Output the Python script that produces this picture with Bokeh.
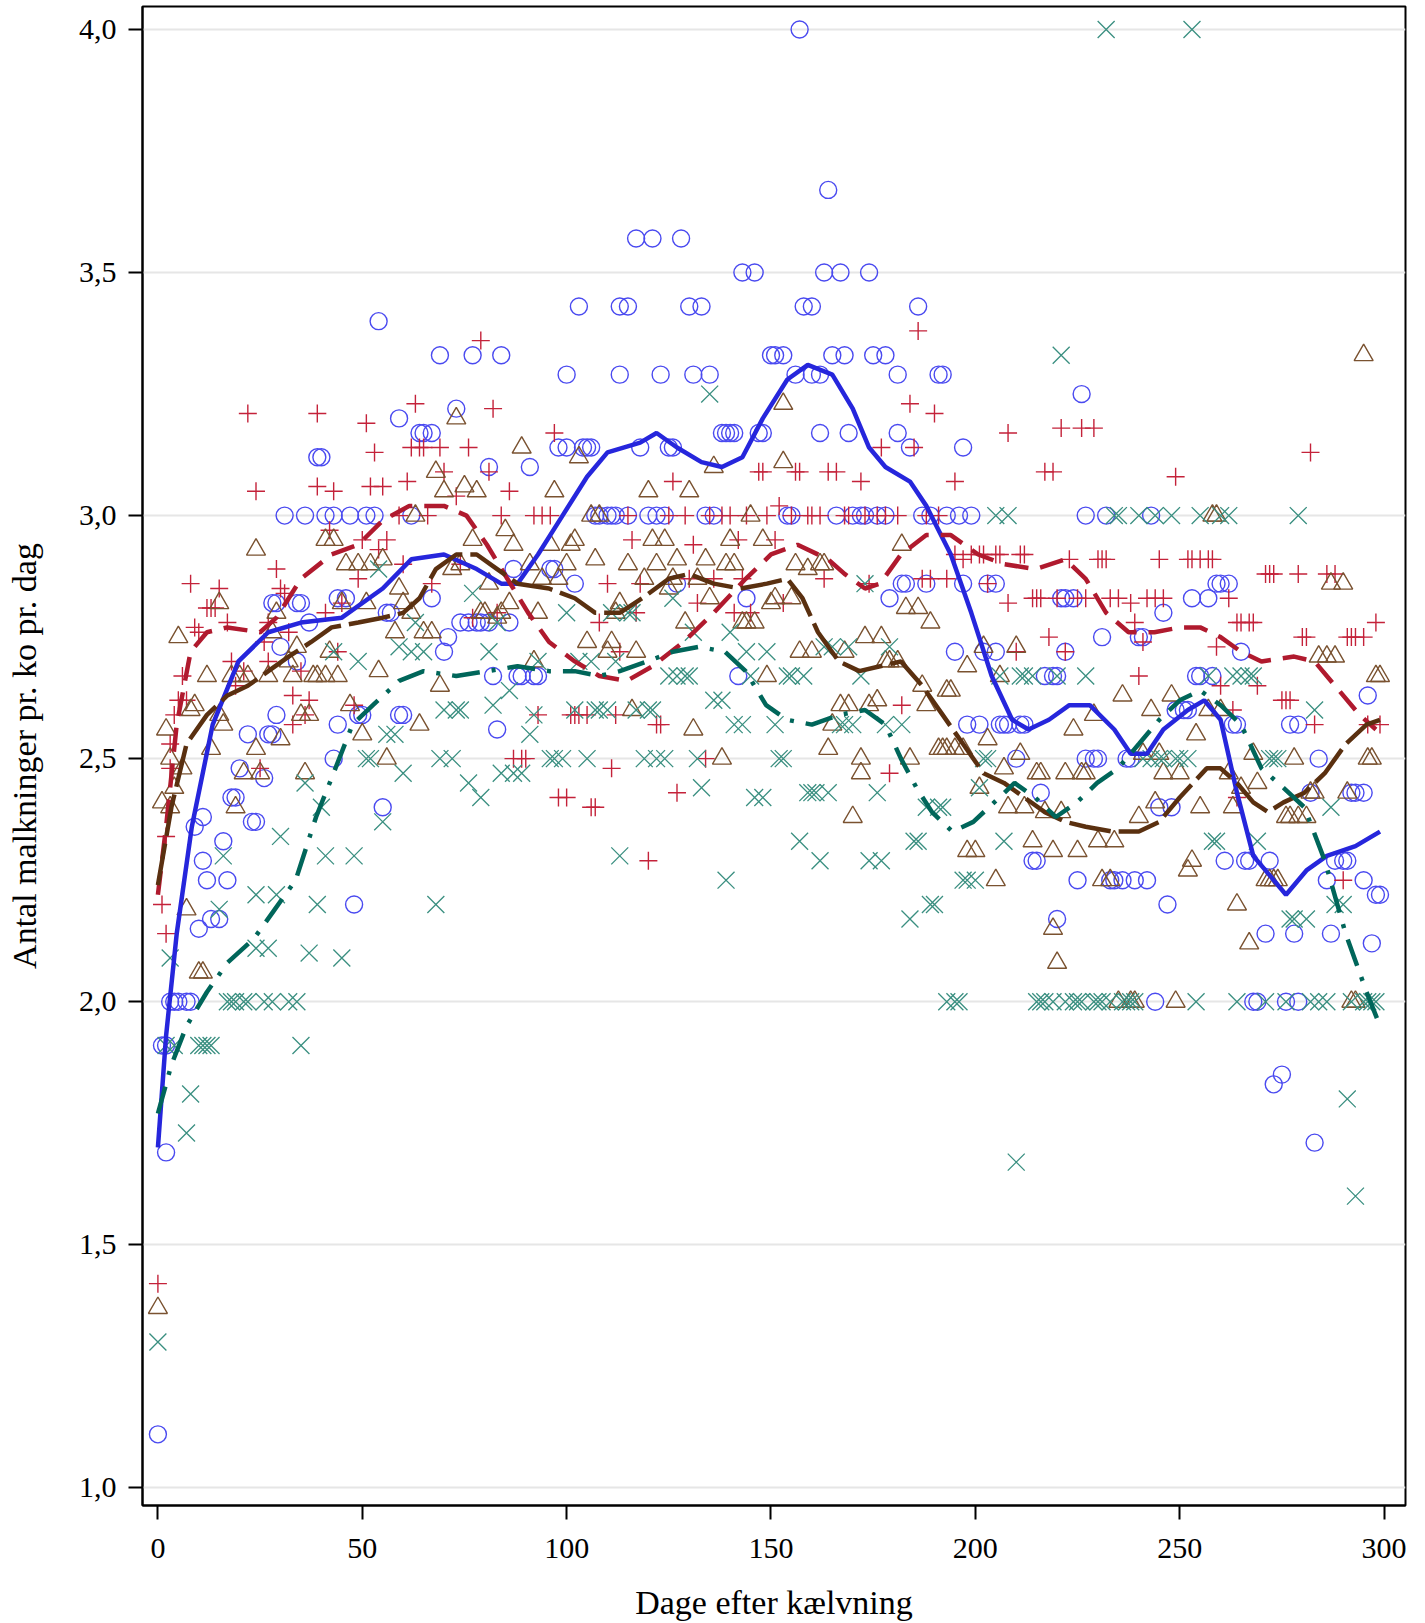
from bokeh.plotting import figure
from bokeh.models import Range1d, FixedTicker, CustomJSTickFormatter
from bokeh.embed import file_html
from bokeh.resources import INLINE

# ---------------- data: (day after calving, milkings per cow per day) ----------------
BLUE_POINTS = [(0,1.11),(2,1.69),(1,1.91),(2,1.91),(3,2.0),(4,2.0),(5,2.0),(7,2.0),(8,2.0),(10,2.15),(9,2.36),(11,2.29),(11,2.38),(12,2.25),(13,2.17),(15,2.17),(16,2.33),(17,2.25),(18,2.42),(19,2.42),(20,2.48),(22,2.55),(23,2.37),(24,2.37),(26,2.46),(27,2.55),(28,2.55),(29,2.59),(28,2.82),(29,2.82),(30,2.73),(31,3.0),(34,2.82),(35,2.82),(34,2.70),(36,3.0),(37,2.78),(39,3.12),(40,3.12),(41,3.0),(43,3.0),(43,2.5),(44,2.83),(46,2.83),(44,2.57),(47,3.0),(48,2.20),(49,2.59),(50,2.59),(51,3.0),(53,3.0),(54,3.40),(55,2.40),(56,2.80),(57,2.80),(59,2.59),(59,3.20),(60,2.59),(62,3.0),(64,3.17),(65,3.17),(67,3.17),(67,2.83),(69,3.33),(70,2.72),(71,2.75),(73,3.22),(74,2.78),(76,2.78),(77,3.33),(78,2.78),(79,2.78),(81,2.78),(81,3.10),(82,2.67),(83,2.56),(84,3.33),(86,2.78),(87,2.89),(88,2.67),(89,2.67),(91,3.10),(92,2.67),(93,2.67),(96,2.89),(97,2.89),(98,3.14),(100,3.14),(100,3.29),(102,2.86),(103,3.43),(104,3.14),(105,3.14),(106,3.14),(107,3.0),(108,3.0),(110,3.0),(111,3.0),(112,3.0),(113,3.29),(113,3.43),(115,3.43),(115,3.0),(117,3.57),(118,3.14),(120,3.0),(121,3.57),(122,3.0),(123,3.29),(124,3.0),(125,3.14),(126,3.14),(127,2.86),(128,3.57),(130,3.43),(131,3.29),(133,3.43),(134,3.0),(135,3.29),(136,3.0),(138,3.17),(139,3.17),(140,3.17),(141,3.17),(142,2.67),(143,3.5),(144,2.83),(146,3.5),(147,3.17),(148,3.17),(150,3.33),(151,3.33),(153,3.33),(154,3.0),(155,3.0),(156,3.29),(157,4.0),(158,3.43),(160,3.43),(160,3.29),(162,3.29),(162,3.17),(163,3.5),(164,3.67),(166,3.0),(167,3.5),(165,3.33),(168,3.33),(169,3.17),(170,3.0),(172,3.0),(173,3.0),(174,3.5),(175,3.33),(176,3.0),(178,3.33),(178,3.0),(179,2.83),(181,3.17),(181,3.29),(182,2.86),(183,2.86),(184,3.14),(186,3.43),(187,3.0),(188,2.86),(189,3.0),(191,3.29),(192,3.29),(193,3.0),(195,2.72),(196,3.0),(197,2.86),(197,3.14),(198,2.57),(199,3.0),(201,2.57),(202,2.72),(203,2.86),(205,2.86),(205,2.72),(206,2.57),(207,2.57),(208,2.57),(210,2.5),(211,2.57),(212,2.57),(214,2.29),(215,2.29),(216,2.43),(217,2.67),(219,2.67),(220,2.67),(220,2.17),(221,2.83),(222,2.83),(222,2.72),(224,2.83),(225,2.25),(226,3.25),(227,3.0),(227,2.5),(229,2.5),(230,2.5),(231,2.75),(232,3.0),(233,2.25),(234,2.25),(236,2.25),(237,2.5),(238,2.5),(239,2.25),(240,2.75),(241,2.75),(242,2.25),(243,3.0),(244,2.0),(245,2.40),(246,2.80),(247,2.20),(248,2.40),(249,2.60),(251,2.60),(252,2.60),(253,2.83),(254,2.67),(255,2.67),(257,2.83),(258,2.67),(259,2.86),(260,2.86),(261,2.29),(262,2.86),(263,2.57),(264,2.57),(265,2.72),(266,2.29),(267,2.29),(268,2.0),(269,2.0),(271,2.14),(272,2.29),(273,1.83),(275,1.85),(276,2.0),(277,2.57),(278,2.14),(279,2.57),(279,2.0),(282,2.43),(283,1.71),(284,2.5),(286,2.25),(287,2.14),(288,2.29),(290,2.29),(291,2.29),(292,2.43),(293,2.43),(295,2.43),(295,2.25),(296,2.63),(297,2.12),(298,2.22),(299,2.22)]

RED_POINTS = [(0,1.42),(1,2.20),(2,2.14),(2,2.34),(3,2.48),(3,2.53),(4,2.59),(5,2.62),(6,2.67),(7,2.62),(8,2.86),(9,2.77),(10,2.76),(12,2.81),(13,2.81),(14,2.81),(15,2.85),(17,2.78),(18,2.70),(19,2.65),(21,2.68),(22,3.21),(24,3.05),(25,2.48),(26,2.74),(27,2.70),(27,2.78),(29,2.89),(30,2.85),(31,2.84),(32,2.76),(33,2.57),(33,2.63),(35,2.68),(36,2.59),(37,2.62),(39,3.21),(39,3.06),(41,2.80),(42,2.97),(43,3.05),(44,2.72),(45,2.82),(48,2.61),(49,2.87),(50,2.95),(51,3.19),(52,3.06),(53,3.13),(54,2.93),(55,3.06),(56,2.95),(59,3.0),(60,2.90),(61,3.07),(62,3.14),(63,3.23),(64,3.14),(65,3.14),(66,3.0),(67,2.86),(69,3.14),(70,3.09),(73,3.04),(74,2.90),(76,3.14),(77,2.79),(79,3.36),(81,3.09),(82,3.22),(83,2.80),(84,3.0),(86,3.05),(87,2.50),(89,2.50),(90,2.50),(92,3.0),(93,2.59),(94,3.0),(96,3.0),(97,3.17),(98,2.42),(100,2.42),(101,2.59),(102,2.59),(103,2.59),(105,2.59),(106,2.40),(107,2.40),(108,2.78),(110,2.86),(111,2.48),(112,2.59),(113,2.72),(115,3.0),(116,2.95),(117,2.80),(118,2.86),(120,2.29),(122,2.57),(123,2.57),(125,3.0),(126,3.07),(127,2.43),(129,3.0),(130,2.87),(131,2.94),(132,2.82),(134,2.5),(135,3.0),(136,2.87),(138,3.0),(140,3.0),(141,2.80),(142,2.95),(143,2.87),(144,3.0),(145,2.80),(147,3.09),(148,3.09),(149,3.0),(151,2.95),(152,3.02),(153,2.82),(155,3.0),(156,3.09),(157,3.09),(159,3.0),(160,3.0),(162,3.0),(163,2.87),(164,3.09),(166,3.09),(168,3.0),(169,3.0),(172,3.07),(173,3.0),(174,2.86),(176,3.0),(177,3.14),(178,3.0),(179,2.47),(181,3.0),(182,2.61),(184,3.23),(185,3.14),(186,3.38),(187,2.87),(188,3.0),(189,2.87),(190,3.21),(191,3.0),(193,2.87),(195,3.07),(195,2.92),(197,2.91),(199,2.92),(201,2.92),(202,2.92),(203,2.86),(205,2.92),(206,2.92),(208,2.82),(208,3.17),(210,2.72),(211,2.92),(212,2.92),(214,2.83),(215,2.83),(216,2.83),(217,3.09),(218,2.75),(219,3.09),(220,2.83),(221,3.18),(222,2.72),(223,2.91),(225,2.83),(226,3.18),(227,2.83),(229,3.18),(230,2.91),(231,2.91),(232,2.91),(233,2.83),(235,2.83),(238,2.82),(239,2.78),(240,2.67),(241,2.74),(242,2.83),(244,2.83),(245,2.91),(246,2.83),(249,3.08),(252,2.91),(253,2.91),(255,2.91),(257,2.91),(258,2.91),(259,2.73),(260,2.65),(262,2.83),(263,2.60),(264,2.78),(264,2.42),(265,2.78),(267,2.78),(268,2.78),(269,2.65),(271,2.88),(272,2.88),(273,2.88),(275,2.62),(276,2.62),(277,2.62),(279,2.88),(280,2.75),(281,2.75),(282,3.13),(283,2.57),(286,2.88),(288,2.88),(290,2.25),(291,2.75),(292,2.75),(293,2.75),(295,2.75),(296,2.57),(298,2.78),(299,2.57)]

BROWN_POINTS = [(0,1.37),(1,2.41),(2,2.56),(3,2.50),(3,2.40),(4,2.44),(5,2.75),(6,2.48),(7,2.19),(8,2.60),(9,2.61),(10,2.06),(11,2.06),(12,2.67),(13,2.52),(15,2.82),(15,2.59),(16,2.57),(18,2.67),(19,2.40),(20,2.67),(21,2.47),(22,2.67),(24,2.93),(24,2.52),(25,2.47),(27,2.67),(28,2.76),(29,2.80),(30,2.54),(32,2.70),(33,2.67),(34,2.73),(35,2.59),(36,2.47),(37,2.59),(38,2.67),(39,2.67),(41,2.67),(41,2.95),(42,2.72),(43,2.95),(44,2.67),(45,2.82),(46,2.90),(47,2.61),(49,2.90),(50,2.55),(51,2.82),(52,2.90),(54,2.68),(55,2.91),(56,2.50),(58,2.76),(59,2.85),(60,2.82),(62,2.80),(63,3.0),(64,2.57),(65,2.76),(67,2.76),(68,3.09),(69,2.65),(70,3.05),(72,2.89),(73,3.20),(74,2.90),(75,3.06),(77,2.95),(78,3.05),(79,2.80),(80,2.80),(81,2.86),(83,2.79),(84,2.80),(85,2.97),(86,2.82),(87,2.94),(89,3.14),(91,2.90),(92,2.70),(93,2.80),(94,2.87),(96,2.94),(97,3.05),(98,2.87),(100,2.90),(101,2.94),(102,2.95),(103,3.12),(105,2.74),(106,3.0),(107,2.91),(108,3.0),(110,2.72),(111,2.74),(112,2.80),(113,2.82),(115,2.90),(116,2.60),(117,2.72),(119,2.87),(120,3.05),(121,2.95),(122,2.90),(124,2.95),(125,2.85),(126,2.87),(127,2.91),(129,2.78),(130,3.05),(131,2.56),(132,2.87),(134,2.91),(135,2.83),(136,3.10),(138,2.50),(139,2.90),(140,2.95),(141,2.90),(143,2.78),(144,2.78),(145,3.0),(146,2.78),(148,2.95),(149,2.67),(150,2.82),(151,2.83),(153,3.23),(153,3.11),(155,2.83),(156,2.90),(157,2.72),(159,2.89),(160,2.72),(162,2.90),(163,2.90),(164,2.52),(165,2.57),(167,2.61),(168,2.72),(169,2.61),(170,2.38),(172,2.47),(172,2.50),(173,2.75),(174,2.61),(176,2.62),(177,2.75),(178,2.70),(179,2.70),(181,2.70),(182,2.94),(183,2.81),(184,2.50),(186,2.81),(187,2.65),(188,2.61),(189,2.78),(191,2.52),(192,2.52),(193,2.64),(193,2.52),(194,2.64),(195,2.52),(197,2.52),(198,2.69),(198,2.31),(200,2.31),(201,2.44),(202,2.73),(203,2.54),(205,2.25),(206,2.67),(207,2.48),(208,2.40),(210,2.73),(211,2.51),(212,2.40),(214,2.33),(215,2.47),(216,2.47),(217,2.39),(219,2.31),(219,2.15),(220,2.08),(221,2.39),(222,2.47),(224,2.56),(225,2.31),(226,2.47),(227,2.47),(229,2.59),(230,2.33),(231,2.25),(233,2.25),(234,2.33),(235,2.0),(236,2.63),(238,2.0),(239,2.0),(240,2.38),(241,2.51),(243,2.60),(244,2.41),(245,2.51),(246,2.47),(248,2.63),(249,2.0),(250,2.47),(252,2.27),(253,2.29),(254,2.55),(255,2.40),(257,2.60),(258,3.0),(259,3.0),(260,2.60),(262,2.47),(263,2.40),(264,2.20),(265,2.44),(267,2.12),(268,2.51),(269,2.45),(271,2.25),(272,2.25),(273,2.25),(274,2.25),(276,2.38),(277,2.38),(278,2.5),(279,2.38),(281,2.38),(282,2.43),(283,2.43),(284,2.71),(286,2.71),(287,2.86),(288,2.71),(290,2.86),(291,2.43),(292,2.0),(293,2.0),(295,3.33),(296,2.5),(297,2.5),(298,2.67),(299,2.67)]

TEAL_POINTS = [(0,1.30),(2,1.91),(3,2.09),(4,1.91),(7,1.73),(8,1.81),(10,1.91),(11,1.91),(12,1.91),(13,1.91),(15,2.19),(16,2.30),(17,2.0),(18,2.0),(19,2.0),(21,2.0),(22,2.0),(24,2.22),(24,2.11),(26,2.0),(27,2.11),(28,2.0),(29,2.22),(30,2.34),(32,2.0),(34,2.0),(35,1.91),(36,2.45),(37,2.10),(39,2.20),(40,2.40),(41,2.30),(43,2.72),(45,2.09),(48,2.30),(49,2.70),(51,2.5),(52,2.5),(54,2.89),(55,2.37),(56,2.55),(58,2.55),(59,2.73),(60,2.47),(62,2.72),(63,2.78),(65,2.72),(68,2.20),(69,2.5),(70,2.60),(72,2.5),(73,2.60),(74,2.60),(76,2.45),(77,2.84),(79,2.42),(81,2.72),(82,2.61),(83,2.78),(84,2.47),(86,2.64),(87,2.47),(89,2.47),(91,2.55),(92,2.59),(93,2.70),(96,2.5),(97,2.5),(99,2.5),(100,2.80),(102,2.60),(103,2.70),(105,2.5),(106,2.70),(107,2.60),(108,2.60),(110,2.60),(111,2.80),(112,2.70),(113,2.30),(115,2.80),(116,2.80),(117,2.60),(119,2.5),(120,2.60),(121,2.60),(122,2.5),(124,2.5),(125,2.67),(126,2.83),(127,2.67),(129,2.67),(130,2.67),(131,2.76),(132,2.5),(133,2.44),(135,3.25),(136,2.62),(138,2.62),(139,2.25),(140,2.76),(141,2.57),(143,2.57),(144,2.72),(145,2.67),(146,2.42),(148,2.42),(149,2.72),(151,2.57),(152,2.5),(153,2.5),(154,2.67),(155,2.67),(157,2.33),(158,2.67),(159,2.43),(160,2.43),(161,2.43),(162,2.29),(163,2.73),(164,2.43),(165,2.73),(167,2.57),(168,2.57),(169,2.73),(170,2.57),(172,2.67),(173,2.86),(174,2.29),(176,2.43),(177,2.29),(178,2.57),(179,2.73),(182,2.57),(184,2.17),(185,2.33),(186,2.33),(188,2.40),(189,2.20),(190,2.20),(191,2.40),(192,2.40),(193,2.0),(195,2.0),(196,2.0),(197,2.25),(198,2.25),(200,2.25),(201,2.44),(202,2.5),(203,2.5),(205,3.0),(206,2.67),(207,2.33),(208,3.0),(210,1.67),(211,2.67),(212,2.67),(214,2.67),(215,2.0),(216,2.0),(217,2.0),(219,2.0),(220,2.67),(221,3.33),(222,2.0),(224,2.0),(225,2.0),(226,2.0),(227,2.67),(229,2.0),(230,2.0),(231,2.0),(232,4.0),(233,2.0),(234,3.0),(235,3.0),(236,2.0),(237,2.0),(238,2.0),(239,2.0),(240,3.0),(241,2.5),(243,2.5),(244,3.0),(245,2.5),(246,2.5),(248,3.0),(249,2.5),(250,2.5),(252,2.5),(253,4.0),(254,2.0),(255,3.0),(257,2.67),(258,2.33),(259,2.33),(260,3.0),(262,3.0),(263,2.67),(264,2.0),(265,2.67),(267,2.67),(268,2.67),(269,2.33),(271,2.0),(272,2.5),(273,2.5),(274,2.5),(276,2.0),(277,2.17),(278,2.17),(279,3.0),(281,2.17),(282,2.0),(283,2.60),(284,2.0),(286,2.0),(287,2.40),(288,2.20),(290,2.20),(291,1.80),(292,2.0),(293,1.60),(295,2.0),(296,2.0),(297,2.0),(298,2.0)]

# smoothed curves
BLUE_CURVE = [(0,1.70),(2,1.93),(4.6,2.14),(8.3,2.36),(13.4,2.57),(19.7,2.70),(27,2.76),(35,2.78),(45,2.79),(55,2.85),(62,2.91),(70,2.92),(78,2.89),(84,2.86),(88,2.86),(93,2.92),(99,3.0),(105,3.08),(110,3.13),(118,3.15),(122,3.17),(127,3.14),(133,3.11),(138,3.10),(143,3.12),(148,3.20),(154,3.28),(159,3.31),(165,3.29),(170,3.22),(174,3.14),(178,3.10),(184,3.07),(188,3.02),(194,2.92),(199,2.80),(204,2.67),(209,2.58),(213,2.56),(218,2.58),(223,2.61),(228,2.61),(234,2.56),(238,2.51),(242,2.51),(246,2.56),(252,2.60),(256,2.62),(260,2.58),(264,2.43),(268,2.30),(276,2.22),(281,2.27),(286,2.30),(293,2.32),(299,2.35)]
RED_CURVE = [(0,2.22),(2,2.36),(4.6,2.57),(8,2.72),(12,2.76),(17,2.77),(25,2.76),(29,2.79),(35,2.87),(42.5,2.92),(49,2.94),(55,2.99),(61.5,3.02),(70,3.02),(75.5,3.0),(80.5,2.94),(85.5,2.87),(90.6,2.80),(95.7,2.74),(102,2.70),(108,2.67),(114.7,2.66),(121,2.69),(128.6,2.74),(136,2.80),(143.8,2.87),(150,2.92),(156.5,2.94),(164,2.91),(168,2.88),(173,2.85),(176.7,2.86),(181.8,2.92),(188,2.96),(194,2.96),(200.7,2.92),(207,2.90),(214.7,2.89),(222,2.91),(227,2.87),(232,2.80),(237.5,2.76),(243.8,2.76),(250,2.77),(255,2.77),(260,2.75),(265,2.72),(270,2.70),(278,2.71),(283,2.70),(289,2.64),(294,2.59),(298,2.56)]
BROWN_CURVE = [(0,2.24),(3.3,2.40),(7,2.53),(12,2.59),(17,2.63),(22,2.65),(27,2.68),(32,2.71),(37.5,2.74),(42.5,2.77),(49,2.78),(55,2.79),(60,2.80),(64,2.83),(68,2.89),(73,2.92),(78,2.92),(83,2.89),(88,2.86),(95.7,2.85),(102,2.83),(107,2.80),(113,2.80),(118.5,2.83),(125,2.87),(130,2.88),(136,2.86),(142.5,2.85),(149,2.86),(154,2.87),(157.7,2.83),(161.5,2.76),(166.6,2.70),(171.6,2.68),(176.7,2.69),(181.8,2.70),(187,2.65),(192,2.59),(197,2.53),(202,2.47),(207,2.45),(212,2.42),(217,2.39),(222,2.37),(227,2.36),(233.6,2.35),(240,2.35),(245,2.37),(250,2.42),(256.6,2.48),(260,2.48),(264,2.45),(268,2.41),(271.6,2.39),(275.4,2.41),(280.5,2.43),(285.5,2.47),(290.6,2.53),(295.7,2.57),(299,2.58)]
TEAL_CURVE = [(0,1.77),(3.3,1.87),(7,1.95),(12,2.02),(17,2.08),(23.5,2.13),(28.6,2.19),(33.7,2.25),(38.7,2.38),(42.5,2.46),(47.6,2.57),(52.6,2.61),(59,2.66),(65,2.68),(73,2.67),(80.5,2.68),(88,2.69),(95.7,2.68),(102,2.68),(108,2.67),(113,2.68),(119.7,2.70),(126,2.72),(132.4,2.73),(138.7,2.72),(143.8,2.68),(148.8,2.61),(153.9,2.58),(160,2.57),(166.6,2.59),(173,2.60),(178,2.57),(181.8,2.50),(185.6,2.44),(189.4,2.39),(194.4,2.35),(199.5,2.37),(204.6,2.41),(209.6,2.45),(214.6,2.42),(219.7,2.38),(224.8,2.41),(229.8,2.45),(234.9,2.48),(240,2.53),(245,2.58),(250,2.62),(255,2.64),(260,2.61),(265,2.57),(270,2.48),(275.4,2.44),(280.5,2.40),(285.5,2.29),(290.6,2.14),(295.7,2.02),(299,1.95)]

X_TICKS = [0, 50, 100, 150, 200, 250, 300]
Y_TICKS = [1.0, 1.5, 2.0, 2.5, 3.0, 3.5, 4.0]
X_TITLE = "Dage efter kælvning"
Y_TITLE = "Antal malkninger pr. ko pr. dag"

FONT = "Liberation Serif"


def cols(points):
    return [p[0] for p in points], [p[1] for p in points]


p = figure(frame_width=1263, frame_height=1499,
           min_border_left=142, min_border_right=12, min_border_top=6, min_border_bottom=112,
           x_range=Range1d(-3.77, 305.24), y_range=Range1d(0.9636, 4.0473),
           output_backend="svg", toolbar_location=None)

p.outline_line_color = "black"
p.outline_line_width = 2
p.background_fill_color = "white"
p.border_fill_color = "white"

p.xgrid.visible = False
p.ygrid.ticker = FixedTicker(ticks=Y_TICKS)
p.ygrid.grid_line_color = "#e6e6e6"
p.ygrid.grid_line_width = 2

fmt = CustomJSTickFormatter(code="return tick.toFixed(1).replace('.', ',');")

for ax in (p.xaxis[0], p.yaxis[0]):
    ax.axis_line_width = 2
    ax.axis_line_color = "black"
    ax.major_tick_line_width = 2
    ax.major_tick_line_color = "black"
    ax.major_tick_in = 0
    ax.major_tick_out = 14
    ax.minor_tick_line_color = None
    ax.major_label_text_font = FONT
    ax.major_label_text_font_size = "30px"
    ax.major_label_text_color = "black"
    ax.axis_label_text_font = FONT
    ax.axis_label_text_font_size = "34px"
    ax.axis_label_text_font_style = "normal"
    ax.axis_label_text_color = "black"

p.xaxis.ticker = FixedTicker(ticks=X_TICKS)
p.yaxis.ticker = FixedTicker(ticks=Y_TICKS)
p.yaxis.formatter = fmt
p.xaxis.axis_label = X_TITLE
p.yaxis.axis_label = Y_TITLE
p.xaxis.major_label_standoff = 19
p.xaxis.axis_label_standoff = 23
p.yaxis.major_label_standoff = 12
p.yaxis.axis_label_standoff = 33

# scatter markers
bx, by = cols(BLUE_POINTS)
p.scatter(bx, by, marker="circle", size=17, fill_color=None, line_color="#4a4af0", line_width=1.4)
rx, ry = cols(RED_POINTS)
p.scatter(rx, ry, marker="cross", size=18, line_color="#c4223a", line_width=1.4)
wx, wy = cols(BROWN_POINTS)
p.scatter(wx, wy, marker="triangle", size=19, fill_color=None, line_color="#7a5230", line_width=1.4)
tx, ty = cols(TEAL_POINTS)
p.scatter(tx, ty, marker="x", size=24, line_color="#3a8f80", line_width=1.3)

# smooth curves
cx, cy = cols(BLUE_CURVE)
p.line(cx, cy, line_color="#2626dc", line_width=4.5)
cx, cy = cols(RED_CURVE)
p.line(cx, cy, line_color="#b01a2e", line_width=4.5, line_dash="24 12")
cx, cy = cols(BROWN_CURVE)
p.line(cx, cy, line_color="#5a3010", line_width=4.5, line_dash="42 8")
cx, cy = cols(TEAL_CURVE)
p.line(cx, cy, line_color="#00665a", line_width=4.5, line_dash="28 12 4 12")

open("out.html", "w").write(file_html(p, INLINE))
